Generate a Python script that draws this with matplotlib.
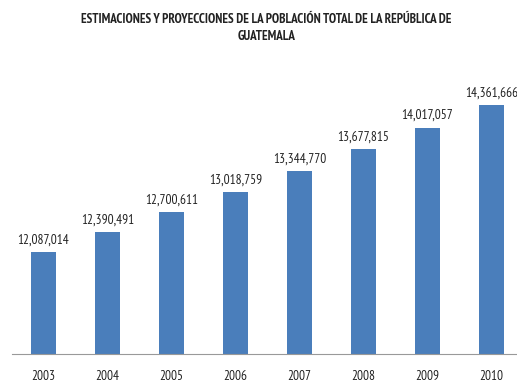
import matplotlib
matplotlib.use("Agg")
import matplotlib.pyplot as plt

# Data
years = ["2003", "2004", "2005", "2006", "2007", "2008", "2009", "2010"]
poblacion = [12087014, 12390491, 12700611, 13018759, 13344770, 13677815, 14017057, 14361666]
titulo = "ESTIMACIONES Y PROYECCIONES DE LA POBLACIÓN TOTAL DE LA REPÚBLICA DE\nGUATEMALA"

fam = ["PT Sans Narrow", "Liberation Sans"]

fig = plt.figure(figsize=(5.17, 3.84), dpi=100)
ax = fig.add_axes([11.5 / 517, 30 / 384, 512 / 517, 354 / 384])

x = range(len(years))
ax.bar(x, poblacion, width=0.39, color="#4A7EBB")
ax.set_ylim(10.5e6, 16e6)
ax.set_xlim(-0.5, len(years) - 0.5)

for xi, v in zip(x, poblacion):
    ax.annotate(f"{v:,}", (xi, v), xytext=(0, 4), textcoords="offset points",
                ha="center", va="bottom", fontsize=9.5, family=fam, color="#222222")

ax.set_xticks(list(x))
ax.set_xticklabels(years, family=fam, fontsize=9.5, color="#222222")
ax.tick_params(axis="x", length=0, pad=11.5)
ax.set_yticks([])
for s in ["top", "right", "left"]:
    ax.spines[s].set_visible(False)
ax.spines["bottom"].set_color("#999999")

fig.text(0.515, 0.967, titulo, ha="center", va="top", fontsize=9.4, fontweight="bold",
         family=fam, color="#222222", linespacing=1.45)

fig.savefig("out.png", dpi=100)
